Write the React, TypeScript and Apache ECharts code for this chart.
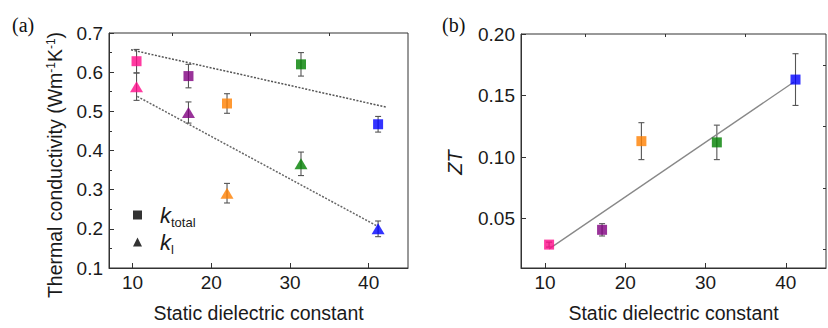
import React, { useEffect, useRef } from "react";
import * as echarts from "echarts";

// ---- data ----
const dielectric = [10.5, 17.1, 22.0, 31.4, 41.2];
const kTotal = [0.628, 0.59, 0.52, 0.62, 0.467];
const kTotalErr = [0.03, 0.03, 0.025, 0.03, 0.02];
const kLattice = [0.563, 0.497, 0.291, 0.366, 0.2];
const kLatticeErr = [0.035, 0.027, 0.025, 0.03, 0.02];
const zt = [0.029, 0.041, 0.113, 0.112, 0.163];
const ztErr = [0.002, 0.005, 0.015, 0.014, 0.021];
const fitTotal = [[9.8, 0.657], [42.2, 0.511]];
const fitLattice = [[10.6, 0.538], [41.0, 0.208]];
const fitZT = [[10.5, 0.0255], [41.0, 0.161]];
const xMajorTicks = [10, 20, 30, 40];
const xMinorTicks = [15, 25, 35];
const ztMajorTicks = [0.05, 0.1, 0.15, 0.2];
const ztMinorTicks = [0.025, 0.075, 0.125, 0.175];
const pointColors = ["#ff0a8a", "#800080", "#ff8000", "#008000", "#0000ff"];

const FONT = 'Arial, "Liberation Sans", Helvetica, sans-serif';
const SERIF = '"Times New Roman", "Liberation Serif", serif';
const AXIS_COLOR = "#333";
const TEXT_COLOR = "#1a1a1a";

function errorSeries(xi: number, yi: number, ys: number[], errs: number[]) {
  return {
    type: "custom",
    coordinateSystem: "cartesian2d",
    xAxisIndex: xi,
    yAxisIndex: yi,
    silent: true,
    z: 1,
    encode: { x: 0, y: [1, 2] },
    data: dielectric.map((x, i) => [x, ys[i] - errs[i], ys[i] + errs[i]]),
    renderItem: (_p: any, api: any) => {
      const x = api.value(0);
      const lo = api.coord([x, api.value(1)]);
      const hi = api.coord([x, api.value(2)]);
      const w = 3;
      const st = { stroke: "#555", lineWidth: 1.1 };
      return {
        type: "group",
        children: [
          { type: "line", shape: { x1: lo[0], y1: lo[1], x2: hi[0], y2: hi[1] }, style: st },
          { type: "line", shape: { x1: lo[0] - w, y1: lo[1], x2: lo[0] + w, y2: lo[1] }, style: st },
          { type: "line", shape: { x1: hi[0] - w, y1: hi[1], x2: hi[0] + w, y2: hi[1] }, style: st },
        ],
      };
    },
  };
}

function points(ys: number[]) {
  return dielectric.map((x, i) => ({ value: [x, ys[i]], itemStyle: { color: pointColors[i] } }));
}

export default function App() {
  const ref = useRef<HTMLDivElement>(null);
  useEffect(() => {
    const chart = echarts.init(ref.current!, null, { renderer: "svg" });
    const axisLabel = { fontSize: 19, fontFamily: FONT, color: TEXT_COLOR };
    const xMain = (gi: number) => ({
      type: "value",
      gridIndex: gi,
      min: 7,
      max: 45,
      name: "Static dielectric constant",
      nameLocation: "middle",
      nameGap: 35,
      nameTextStyle: { fontSize: 19.5, fontFamily: FONT, color: TEXT_COLOR },
      axisLine: { lineStyle: { color: AXIS_COLOR, width: 1 } },
      axisTick: { inside: true, length: 5, customValues: xMajorTicks, lineStyle: { color: AXIS_COLOR } },
      axisLabel: { ...axisLabel, margin: 5, customValues: xMajorTicks },
      splitLine: { show: false },
    });
    const xMinor = (gi: number) => ({
      type: "value",
      gridIndex: gi,
      min: 7,
      max: 45,
      axisLine: { show: false },
      axisTick: { inside: true, length: 3, customValues: xMinorTicks, lineStyle: { color: AXIS_COLOR } },
      axisLabel: { show: false },
      splitLine: { show: false },
    });
    const option: any = {
      animation: false,
      backgroundColor: "#ffffff",
      title: [
        { text: "(a)", left: 7, top: 10, textStyle: { fontFamily: SERIF, fontSize: 20, fontWeight: "normal", color: "#111" } },
        { text: "(b)", left: 437, top: 10, textStyle: { fontFamily: SERIF, fontSize: 20, fontWeight: "normal", color: "#111" } },
      ],
      grid: [
        { left: 109, top: 33, width: 299, height: 240, show: true, borderColor: AXIS_COLOR, borderWidth: 1, backgroundColor: "#fff" },
        { left: 521, top: 34, width: 305, height: 239, show: true, borderColor: AXIS_COLOR, borderWidth: 1, backgroundColor: "#fff" },
      ],
      legend: {
        left: 128,
        top: 199,
        orient: "vertical",
        itemGap: 2,
        itemWidth: 9,
        itemHeight: 9,
        data: [
          { name: "k_total", icon: "rect" },
          { name: "k_l", icon: "triangle" },
        ],
        formatter: (n: string) => (n === "k_total" ? "{k|k}{s|total}" : "{k|k}{s|l}"),
        textStyle: {
          color: TEXT_COLOR,
          rich: {
            k: { fontStyle: "italic", fontSize: 22, fontFamily: FONT, color: TEXT_COLOR, padding: [0, 0, 0, 13] },
            s: { fontSize: 13, fontFamily: FONT, color: TEXT_COLOR, padding: [15, 0, 0, 0] },
          },
        },
      },
      xAxis: [xMain(0), xMinor(0), xMain(1), xMinor(1)],
      yAxis: [
        {
          type: "value",
          gridIndex: 0,
          min: 0.1,
          max: 0.7,
          interval: 0.1,
          name: "Thermal conductivity (Wm{sup|-1}K{sup|-1})",
          nameLocation: "middle",
          nameGap: 44,
          nameTextStyle: {
            fontSize: 19.5,
            fontFamily: FONT,
            color: TEXT_COLOR,
            padding: [0, 29, 0, 0],
            rich: { sup: { fontSize: 12, fontFamily: FONT, color: TEXT_COLOR, verticalAlign: "top", padding: [0, 0, 8, 0] } },
          },
          axisLine: { show: true, lineStyle: { color: AXIS_COLOR, width: 1 } },
          axisTick: { show: true, inside: true, length: 5, lineStyle: { color: AXIS_COLOR } },
          minorTick: { show: true, splitNumber: 2, length: 3, lineStyle: { color: AXIS_COLOR } },
          axisLabel: { ...axisLabel, margin: 6, formatter: (v: number) => v.toFixed(1) },
          splitLine: { show: false },
        },
        {
          type: "value",
          gridIndex: 1,
          min: 0.01,
          max: 0.2,
          name: "ZT",
          nameLocation: "middle",
          nameGap: 56,
          nameTextStyle: { fontSize: 20, fontStyle: "italic", fontFamily: FONT, color: TEXT_COLOR, padding: [0, 23, 0, 0] },
          axisLine: { show: true, lineStyle: { color: AXIS_COLOR, width: 1 } },
          axisTick: { show: true, inside: true, length: 5, customValues: ztMajorTicks, lineStyle: { color: AXIS_COLOR } },
          axisLabel: { ...axisLabel, margin: 6, customValues: ztMajorTicks, formatter: (v: number) => v.toFixed(2) },
          splitLine: { show: false },
        },
        {
          type: "value",
          gridIndex: 1,
          min: 0.01,
          max: 0.2,
          axisLine: { show: false },
          axisTick: { show: true, inside: true, length: 3, customValues: ztMinorTicks, lineStyle: { color: AXIS_COLOR } },
          axisLabel: { show: false },
          splitLine: { show: false },
        },
      ],
      series: [
        {
          type: "line",
          xAxisIndex: 0,
          yAxisIndex: 0,
          data: fitTotal,
          symbol: "none",
          silent: true,
          z: 1,
          lineStyle: { color: "#555", width: 1.5, type: [2, 1.5] },
        },
        {
          type: "line",
          xAxisIndex: 0,
          yAxisIndex: 0,
          data: fitLattice,
          symbol: "none",
          silent: true,
          z: 1,
          lineStyle: { color: "#666", width: 1.5, type: [2, 1.5] },
        },
        errorSeries(0, 0, kTotal, kTotalErr),
        errorSeries(0, 0, kLattice, kLatticeErr),
        {
          name: "k_total",
          type: "scatter",
          xAxisIndex: 0,
          yAxisIndex: 0,
          symbol: "rect",
          symbolSize: 10,
          z: 3,
          itemStyle: { color: "#000" },
          data: points(kTotal),
        },
        {
          name: "k_l",
          type: "scatter",
          xAxisIndex: 0,
          yAxisIndex: 0,
          symbol: "triangle",
          symbolSize: [13, 11],
          z: 3,
          itemStyle: { color: "#000" },
          data: points(kLattice),
        },
        {
          type: "line",
          xAxisIndex: 2,
          yAxisIndex: 1,
          data: fitZT,
          symbol: "none",
          silent: true,
          z: 1,
          lineStyle: { color: "#888", width: 1.3 },
        },
        errorSeries(2, 1, zt, ztErr),
        {
          name: "ZT",
          type: "scatter",
          xAxisIndex: 2,
          yAxisIndex: 1,
          symbol: "rect",
          symbolSize: 10,
          z: 3,
          itemStyle: { color: "#000" },
          data: points(zt),
        },
      ],
    };
    chart.setOption(option);
    return () => chart.dispose();
  }, []);
  return <div ref={ref} style={{ position: "fixed", left: 0, top: 0, width: 828, height: 328 }} />;
}
